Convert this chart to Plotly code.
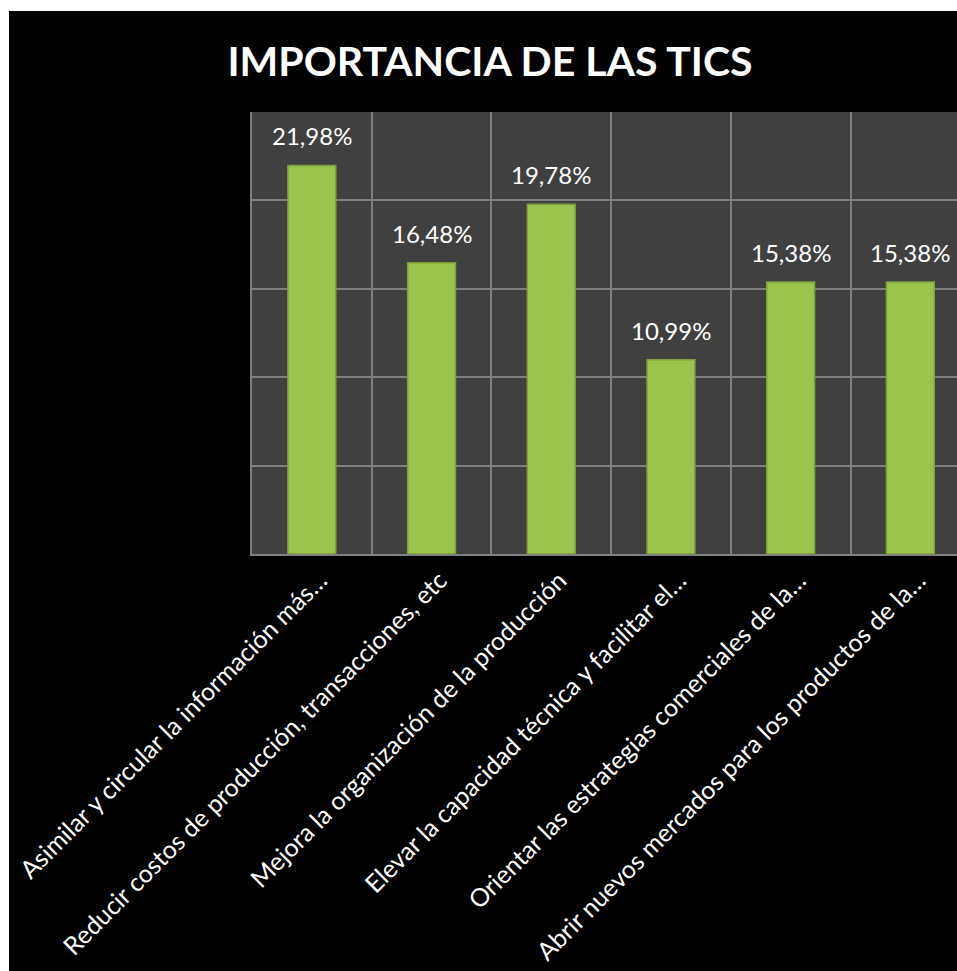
import plotly.graph_objects as go

categories = [
    "Asimilar y circular la información más…",
    "Reducir costos de producción, transacciones, etc",
    "Mejora la organización de la producción",
    "Elevar la capacidad técnica y facilitar el…",
    "Orientar las estrategias comerciales de la…",
    "Abrir nuevos mercados para los productos de la…",
]
values = [21.98, 16.48, 19.78, 10.99, 15.38, 15.38]
value_labels = ["21,98%", "16,48%", "19,78%", "10,99%", "15,38%", "15,38%"]
x_pos = list(range(len(categories)))

W, H = 957, 971
ml, mt, mb = 252, 112, 417
pw = W - ml
ph = H - mt - mb

def px_x(p):
    return (p - ml) / pw

def px_y(p):
    return (H - mb - p) / ph

fig = go.Figure()
fig.add_trace(go.Bar(
    x=x_pos, y=values,
    marker=dict(color="#9AC44B", line=dict(color="#7E9F3B", width=1.5)),
    width=0.4,
    hoverinfo="skip",
))

annotations = []
for xi, v, t in zip(x_pos, values, value_labels):
    annotations.append(dict(
        x=xi, y=v, text=t, showarrow=False, yanchor="bottom", yshift=13,
        font=dict(family="Lato", size=24, color="white"),
    ))

shapes = [
    dict(type="rect", xref="paper", yref="paper", x0=px_x(0), x1=1.0,
         y0=px_y(11), y1=px_y(0), fillcolor="white", line=dict(width=0), layer="above"),
    dict(type="rect", xref="paper", yref="paper", x0=px_x(0), x1=px_x(9),
         y0=px_y(H), y1=px_y(0), fillcolor="white", line=dict(width=0), layer="above"),
]

fig.update_layout(
    width=W, height=H,
    margin=dict(l=ml, r=0, t=mt, b=mb),
    paper_bgcolor="black",
    plot_bgcolor="#404040",
    showlegend=False,
    title=dict(text="<b>IMPORTANCIA DE LAS TICS</b>", x=490 / W, xanchor="center",
               y=1 - 62 / H, yanchor="middle",
               font=dict(family="Lato", size=41, color="white")),
    annotations=annotations,
    shapes=shapes,
    xaxis=dict(
        range=[-0.5, -0.5 + pw / 119.7],
        tickvals=x_pos, ticktext=categories, tickangle=-45,
        tickfont=dict(family="Lato", size=25, color="white"),
        ticklabeloverflow="allow", ticklabelshift=8,
        showgrid=False, zeroline=False,
        showline=True, linecolor="#7f7f7f", linewidth=2,
        ticks="",
        minor=dict(tickvals=[i - 0.5 for i in range(len(categories) + 1)],
                   showgrid=True, gridcolor="#7f7f7f", gridwidth=2, ticks=""),
    ),
    yaxis=dict(
        range=[0, 25], dtick=5, showticklabels=False,
        showgrid=True, gridcolor="#7f7f7f", gridwidth=2,
        zeroline=False, showline=True, linecolor="#7f7f7f", linewidth=2,
    ),
)

fig.write_html(
    "out.html",
    config={"displayModeBar": False},
    post_script="document.body.style.margin='0';document.body.style.overflow='hidden';",
)
